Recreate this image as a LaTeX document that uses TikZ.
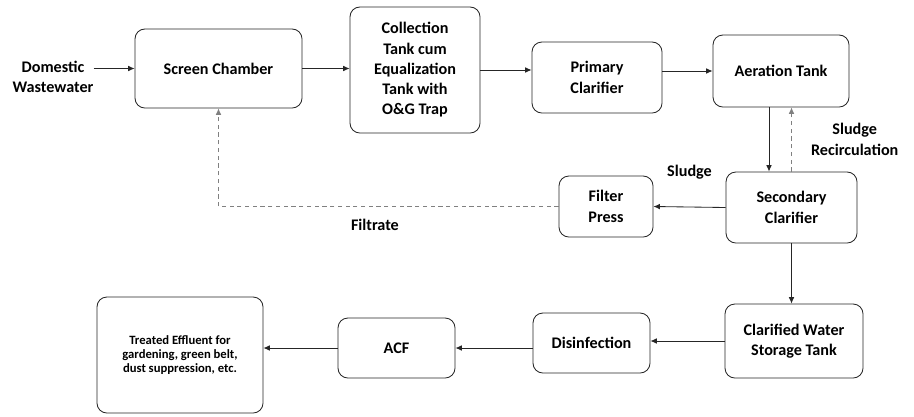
\documentclass[tikz,border=0pt]{standalone}
\usepackage{fontspec}
\setmainfont{Carlito}
\usetikzlibrary{arrows.meta,positioning}

\begin{document}
\begin{tikzpicture}%
  [x=0.025cm, y=-0.025cm,
   >={Latex[length=1.6mm,width=1.4mm]},
   font=\bfseries\fontsize{11.5}{14.4}\selectfont,
   unit/.style={draw=black!85, line width=0.6pt, rounded corners=7pt, align=center, inner sep=2pt},
   dims/.style 2 args={minimum width=#1*0.025cm, minimum height=#2*0.025cm},
   flow/.style={->, draw=black!85, line width=0.6pt},
   back/.style={->, draw=black!50, line width=0.6pt, dash pattern=on 3pt off 2.5pt},
   note/.style={align=center, inner sep=0pt}
  ]
\useasboundingbox (0,0) rectangle (914,416);

\node[note]                        (dom) at (53,77)      {Domestic\\Wastewater};
\node[unit, dims={167}{79}]        (scr) at (218.5,68.5) {Screen Chamber};
\node[unit, dims={130}{126}]       (col) at (415,70)     {Collection\\Tank cum\\Equalization\\Tank with\\O\&G Trap};
\node[unit, dims={130}{71}]        (pri) at (597,77.5)   {Primary\\Clarifier};
\node[unit, dims={136}{72}]        (aer) at (781,71)     {Aeration Tank};
\node[unit, dims={131}{71}]        (sec) at (791.5,207.5){Secondary\\Clarifier};
\node[unit, dims={94}{61}]         (fil) at (606,206.5)  {Filter\\Press};
\node[unit, dims={138}{74}]        (cla) at (794,341)    {Clarified Water\\Storage Tank};
\node[unit, dims={117}{60}]        (dis) at (591.5,343)  {Disinfection};
\node[unit, dims={117}{60}]        (acf) at (396.5,348)  {ACF};
\node[unit, dims={166}{116}, font=\bfseries\fontsize{9}{10}\selectfont]
                                   (tre) at (180,355)    {Treated Effluent for\\gardening, green belt,\\dust suppression, etc.};

%   FROM                   STYLE      LABEL                                            TO
\path
   (dom.east |- scr.west)  edge[flow]                                                  (scr.west)
   (scr.east)              edge[flow]                                                  (scr.east -| col.west)
   (col.east)              edge[flow]                                                  (col.east -| pri.west)
   (pri.east |- aer.west)  edge[flow]                                                  (aer.west)
   (aer.south -| 769,0)    edge[flow]                                                  (sec.north -| 769,0)
   (sec.north)             edge[back] node[note, xshift=1.58cm] {Sludge\\Recirculation} (sec.north |- aer.south)
   (sec.west)              edge[flow] node[note, yshift=0.88cm] {Sludge}                (fil.east)
   (sec.south)             edge[flow]                                                  (sec.south |- cla.north)
   (cla.west)              edge[flow]                                                  (cla.west -| dis.east)
   (dis.west |- acf.east)  edge[flow]                                                  (acf.east)
   (acf.west)              edge[flow]                                                  (acf.west -| tre.east)
   ;
\draw[back] (fil.west) -| node[note, pos=0.27, yshift=-0.46cm] {Filtrate} (scr.south);
\end{tikzpicture}
\end{document}
